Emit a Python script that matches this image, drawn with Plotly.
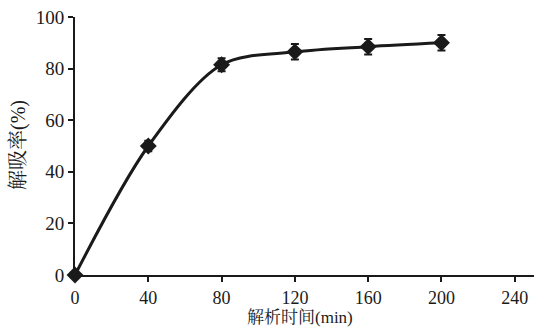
import plotly.graph_objects as go

# Desorption time (min) and desorption rate (%)
time_min = [0, 40, 80, 120, 160, 200]
desorption_rate = [0, 50, 81.5, 86.5, 88.5, 90]
rate_error = [1.0, 2.0, 2.5, 3.0, 3.0, 3.0]

x_ticks = [0, 40, 80, 120, 160, 200, 240]
y_ticks = [0, 20, 40, 60, 80, 100]

font_family = "Liberation Serif, Times New Roman, Noto Serif CJK SC, Noto Sans CJK SC, serif"
ink = "#1a1a1a"

W, H = 534, 328
L, R, T, B = 75, 0, 17, 53

fig = go.Figure()
fig.add_trace(go.Scatter(
    x=time_min,
    y=desorption_rate,
    mode="lines+markers",
    line=dict(color=ink, width=3, shape="spline", smoothing=0.9),
    marker=dict(symbol="diamond", size=13, color=ink),
    error_y=dict(type="data", array=rate_error, visible=True,
                 color=ink, thickness=2, width=4),
    cliponaxis=False,
    showlegend=False,
))

axis_common = dict(
    showgrid=False,
    zeroline=False,
    showline=True,
    linecolor=ink,
    linewidth=2,
    ticks="outside",
    ticklen=5,
    tickwidth=2,
    tickcolor=ink,
    tickfont=dict(family=font_family, size=19, color=ink),
)

fig.update_layout(
    width=W,
    height=H,
    margin=dict(l=L, r=R, t=T, b=B),
    paper_bgcolor="white",
    plot_bgcolor="white",
    xaxis=dict(range=[0, 250.5], tickvals=x_ticks,
               ticktext=[str(v) for v in x_ticks],
               tickfont=dict(family=font_family, size=18, color=ink),
               **{k: v for k, v in axis_common.items() if k != "tickfont"}),
    yaxis=dict(range=[0, 100], tickvals=y_ticks,
               ticktext=[str(v) for v in y_ticks], **axis_common),
)

# Axis titles placed in paper coordinates
pw, ph = W - L - R, H - T - B
fig.add_annotation(
    text="解析时间(min)", showarrow=False,
    xref="paper", yref="paper",
    x=(300 - L) / pw, y=-(H - (T + ph)) / ph,
    xanchor="center", yanchor="bottom", borderpad=0,
    font=dict(family=font_family, size=17, color=ink),
)
fig.add_annotation(
    text="解吸率(%)", showarrow=False, textangle=-90,
    xref="paper", yref="paper",
    x=-(L - 18) / pw, y=((T + ph) - 145) / ph,
    xanchor="center", yanchor="middle",
    font=dict(family=font_family, size=20, color=ink),
)

fig.write_html("out.html")
